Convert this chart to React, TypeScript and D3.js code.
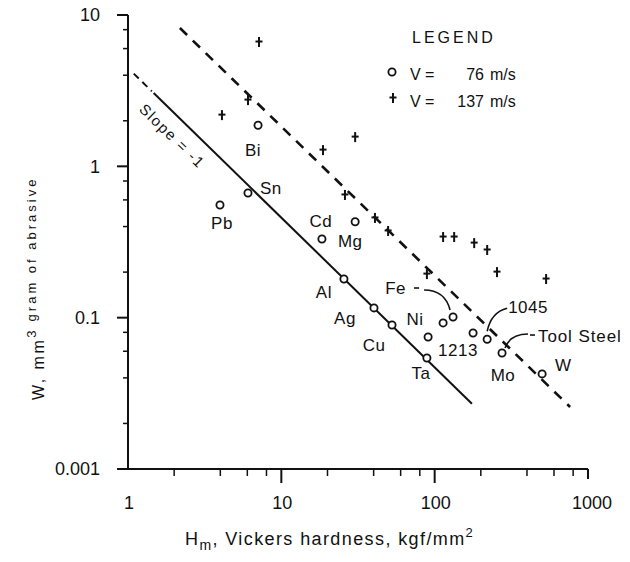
import React from "react";
import * as d3 from "d3";

// ---- data ----
const circleNames = ["Pb", "Sn", "Bi", "Mg", "Cd", "Al", "Ag", "Cu", "Ni", "Ta", "1213", "Fe", "", "1045", "Mo", "W"];
const circleH = [3.98, 6.06, 7.05, 18.4, 30.3, 25.6, 40.2, 52.7, 90.6, 89, 113.5, 131.8, 178, 220, 275, 502];
const circleW = [0.555, 0.667, 1.87, 0.331, 0.43, 0.18, 0.116, 0.0894, 0.0745, 0.0541, 0.0923, 0.101, 0.0792, 0.072, 0.0584, 0.0425];

const plusH = [7.15, 6.06, 4.1, 30.3, 18.7, 26, 40.8, 49.7, 89, 113.5, 134, 181, 220, 255, 533];
const plusW = [6.63, 2.74, 2.18, 1.56, 1.28, 0.647, 0.456, 0.374, 0.194, 0.341, 0.341, 0.311, 0.28, 0.2, 0.18];

const xTicks = [1, 10, 100, 1000];
const xTickLabels = ["1", "10", "100", "1000"];
const xMinorTicks = [2, 4, 6, 8, 20, 40, 60, 80, 200, 400, 600, 800];
const yTicks = [10, 1, 0.1, 0.01];
const yTickLabels = ["10", "1", "0.1", "0.001"];
const yMinorTicks = [0.02, 0.04, 0.06, 0.08, 0.2, 0.4, 0.6, 0.8, 2, 4, 6, 8];

// slope = -1 reference line (solid, short dashed start)
const slopeLineH = [1.09, 175];
const slopeLineW = [4.1, 0.027];
const slopeDashEndH = 1.43;
// dashed fit line
const dashedLineH = [2.18, 764];
const dashedLineW = [8.2, 0.0257];

const legendTitle = "LEGEND";
const legendValues = ["76", "137"];

// ---- layout ----
const FONT = "'Liberation Sans', Arial, Helvetica, sans-serif";
const INK = "#111";

const labelLayout: Record<string, { dx: number; dy: number; anchor: string }> = {
  Pb: { dx: 2, dy: 18, anchor: "middle" },
  Sn: { dx: 12, dy: -5, anchor: "start" },
  Bi: { dx: -5, dy: 25, anchor: "middle" },
  Mg: { dx: 16, dy: 2, anchor: "start" },
  Cd: { dx: -23, dy: -1, anchor: "end" },
  Al: { dx: -12, dy: 13, anchor: "end" },
  Ag: { dx: -29, dy: 10, anchor: "middle" },
  Cu: { dx: -18, dy: 20, anchor: "middle" },
  Ni: { dx: -13, dy: -18, anchor: "middle" },
  Ta: { dx: -6, dy: 15, anchor: "middle" },
  "1213": { dx: -5, dy: 27, anchor: "start" },
  Fe: { dx: -47, dy: -29, anchor: "end" },
  "1045": { dx: 21, dy: -32, anchor: "start" },
  Mo: { dx: 1, dy: 22, anchor: "middle" },
  W: { dx: 13, dy: -9, anchor: "start" },
};

export default function App() {
  const x = d3.scaleLog().domain([1, 1000]).range([128, 588]);
  const y = d3.scaleLog().domain([0.01, 10]).range([469, 15]);
  const line = d3
    .line<[number, number]>()
    .x((d) => x(d[0]))
    .y((d) => y(d[1]));

  const slopeAt = (h: number) => {
    const t = (Math.log10(h) - Math.log10(slopeLineH[0])) / (Math.log10(slopeLineH[1]) - Math.log10(slopeLineH[0]));
    return Math.pow(10, Math.log10(slopeLineW[0]) + t * (Math.log10(slopeLineW[1]) - Math.log10(slopeLineW[0])));
  };

  const pt = (name: string) => {
    const i = circleNames.indexOf(name);
    return [x(circleH[i]), y(circleW[i])];
  };
  const [feX, feY] = pt("Fe");
  const [k45X, k45Y] = pt("1045");
  const [moX, moY] = pt("Mo");

  const x0 = x(1);
  const y0 = y(0.01);
  const slopeAngle = (Math.atan2(y(slopeLineW[1]) - y(slopeLineW[0]), x(slopeLineH[1]) - x(slopeLineH[0])) * 180) / Math.PI;

  return (
    <svg
      width={630}
      height={562}
      style={{ position: "absolute", left: 0, top: 0, background: "#fff" }}
      fontFamily={FONT}
    >
      <rect x={0} y={0} width={630} height={562} fill="#fff" />

      {/* axes */}
      <g stroke={INK} strokeWidth={2} fill="none">
        <line x1={x0} x2={x0} y1={y(10)} y2={y0} />
        <line x1={x0} x2={x(1000)} y1={y0} y2={y0} />
        {yTicks.map((t) => (
          <line key={"yt" + t} x1={x0 - 11} x2={x0} y1={y(t)} y2={y(t)} />
        ))}
        {yMinorTicks.map((t) => (
          <line key={"ym" + t} x1={x0 - 5} x2={x0} y1={y(t)} y2={y(t)} strokeWidth={1.5} />
        ))}
        {xTicks.slice(1).map((t) => (
          <line key={"xt" + t} x1={x(t)} x2={x(t)} y1={y0} y2={y0 + (t === 1000 ? 10 : 14)} />
        ))}
        {xMinorTicks.map((t) => (
          <line key={"xm" + t} x1={x(t)} x2={x(t)} y1={y0} y2={y0 + 7} strokeWidth={1.5} />
        ))}
      </g>

      {/* tick labels */}
      <g fill={INK} fontSize={18}>
        {yTicks.map((t, i) => (
          <text key={"yl" + t} x={x0 - 28} y={y(t)} dy="0.35em" textAnchor="end">
            {yTickLabels[i]}
          </text>
        ))}
        {xTicks.map((t, i) => (
          <text key={"xl" + t} x={x(t) + (t === 1000 ? 4 : 1)} y={y0 + 34} dy="0.35em" textAnchor="middle">
            {xTickLabels[i]}
          </text>
        ))}
      </g>

      {/* axis titles */}
      <text x={185} y={545} fill={INK} fontSize={18} letterSpacing={1.4}>
        H
        <tspan fontSize={14} dy={5}>m</tspan>
        <tspan dy={-5}>, Vickers hardness, kgf/mm</tspan>
        <tspan fontSize={13} dy={-8}>2</tspan>
      </text>
      <text transform="translate(44,400) rotate(-90)" fill={INK} fontSize={16} letterSpacing={2.5}>
        W, mm
        <tspan fontSize={13} dy={-8}>3</tspan>
        <tspan fontSize={13} dy={0} letterSpacing={3}> gram of abrasive</tspan>
      </text>

      {/* lines */}
      <path
        d={line([[slopeLineH[0], slopeLineW[0]], [slopeDashEndH, slopeAt(slopeDashEndH)]])!}
        stroke={INK}
        strokeWidth={2}
        strokeDasharray="7,5"
        fill="none"
      />
      <path
        d={line([[slopeDashEndH + 0.04, slopeAt(slopeDashEndH + 0.04)], [slopeLineH[1], slopeLineW[1]]])!}
        stroke={INK}
        strokeWidth={2}
        fill="none"
      />
      <path
        d={line([[dashedLineH[0], dashedLineW[0]], [dashedLineH[1], dashedLineW[1]]])!}
        stroke={INK}
        strokeWidth={2.6}
        strokeDasharray="10,8"
        fill="none"
      />
      <text
        transform={`translate(${x(1.94)},${y(1.586)}) rotate(${slopeAngle})`}
        fill={INK}
        fontSize={15}
        letterSpacing={1.6}
        textAnchor="middle"
        dy="0.35em"
      >
        Slope = -1
      </text>

      {/* plus markers V = 137 m/s */}
      <g stroke={INK} strokeWidth={2}>
        {plusH.map((h, i) => {
          const cx = x(h);
          const cy = y(plusW[i]);
          return (
            <g key={"p" + i}>
              <line x1={cx} x2={cx} y1={cy - 5} y2={cy + 5} />
              <line x1={cx - 3.5} x2={cx + 3.5} y1={cy - 0.5} y2={cy - 0.5} />
            </g>
          );
        })}
      </g>

      {/* circle markers V = 76 m/s */}
      <g stroke={INK} strokeWidth={1.8} fill="#fff">
        {circleH.map((h, i) => (
          <circle key={"c" + i} cx={x(h)} cy={y(circleW[i])} r={3.6} />
        ))}
      </g>

      {/* point labels */}
      <g fill={INK} fontSize={17} letterSpacing={0.5}>
        {circleNames.map((n, i) => {
          const l = labelLayout[n];
          if (!n || !l) return null;
          return (
            <text key={"t" + i} x={x(circleH[i]) + l.dx} y={y(circleW[i]) + l.dy} dy="0.35em" textAnchor={l.anchor}>
              {n}
            </text>
          );
        })}
        <text x={moX + 36} y={moY - 17} dy="0.35em" letterSpacing={0.9}>
          Tool Steel
        </text>
      </g>

      {/* leaders */}
      <g stroke={INK} strokeWidth={1.6} fill="none">
        <line x1={feX - 39} x2={feX - 34} y1={feY - 29} y2={feY - 29} />
        <path d={`M${feX - 29},${feY - 27} Q${feX - 8},${feY - 27} ${feX - 3},${feY - 7}`} />
        <path d={`M${k45X},${k45Y - 8} Q${k45X + 4},${k45Y - 27} ${k45X + 20},${k45Y - 31}`} />
        <path d={`M${moX + 3},${moY - 5} Q${moX + 8},${moY - 19} ${moX + 26},${moY - 19}`} />
        <line x1={moX + 28} x2={moX + 33} y1={moY - 18} y2={moY - 18} />
      </g>

      {/* legend */}
      <g fill={INK}>
        <text x={412} y={43} fontSize={16} letterSpacing={3}>
          {legendTitle}
        </text>
        <circle cx={392} cy={72} r={3.6} fill="#fff" stroke={INK} strokeWidth={1.8} />
        <g stroke={INK} strokeWidth={2}>
          <line x1={393} x2={393} y1={93} y2={103} />
          <line x1={389.5} x2={396.5} y1={97.5} y2={97.5} />
        </g>
        {legendValues.map((v, i) => (
          <g key={"lg" + i} fontSize={16}>
            <text x={410} y={80 + i * 27}>V =</text>
            <text x={484} y={80 + i * 27} textAnchor="end">{v}</text>
            <text x={490} y={80 + i * 27}>m/s</text>
          </g>
        ))}
      </g>
    </svg>
  );
}
